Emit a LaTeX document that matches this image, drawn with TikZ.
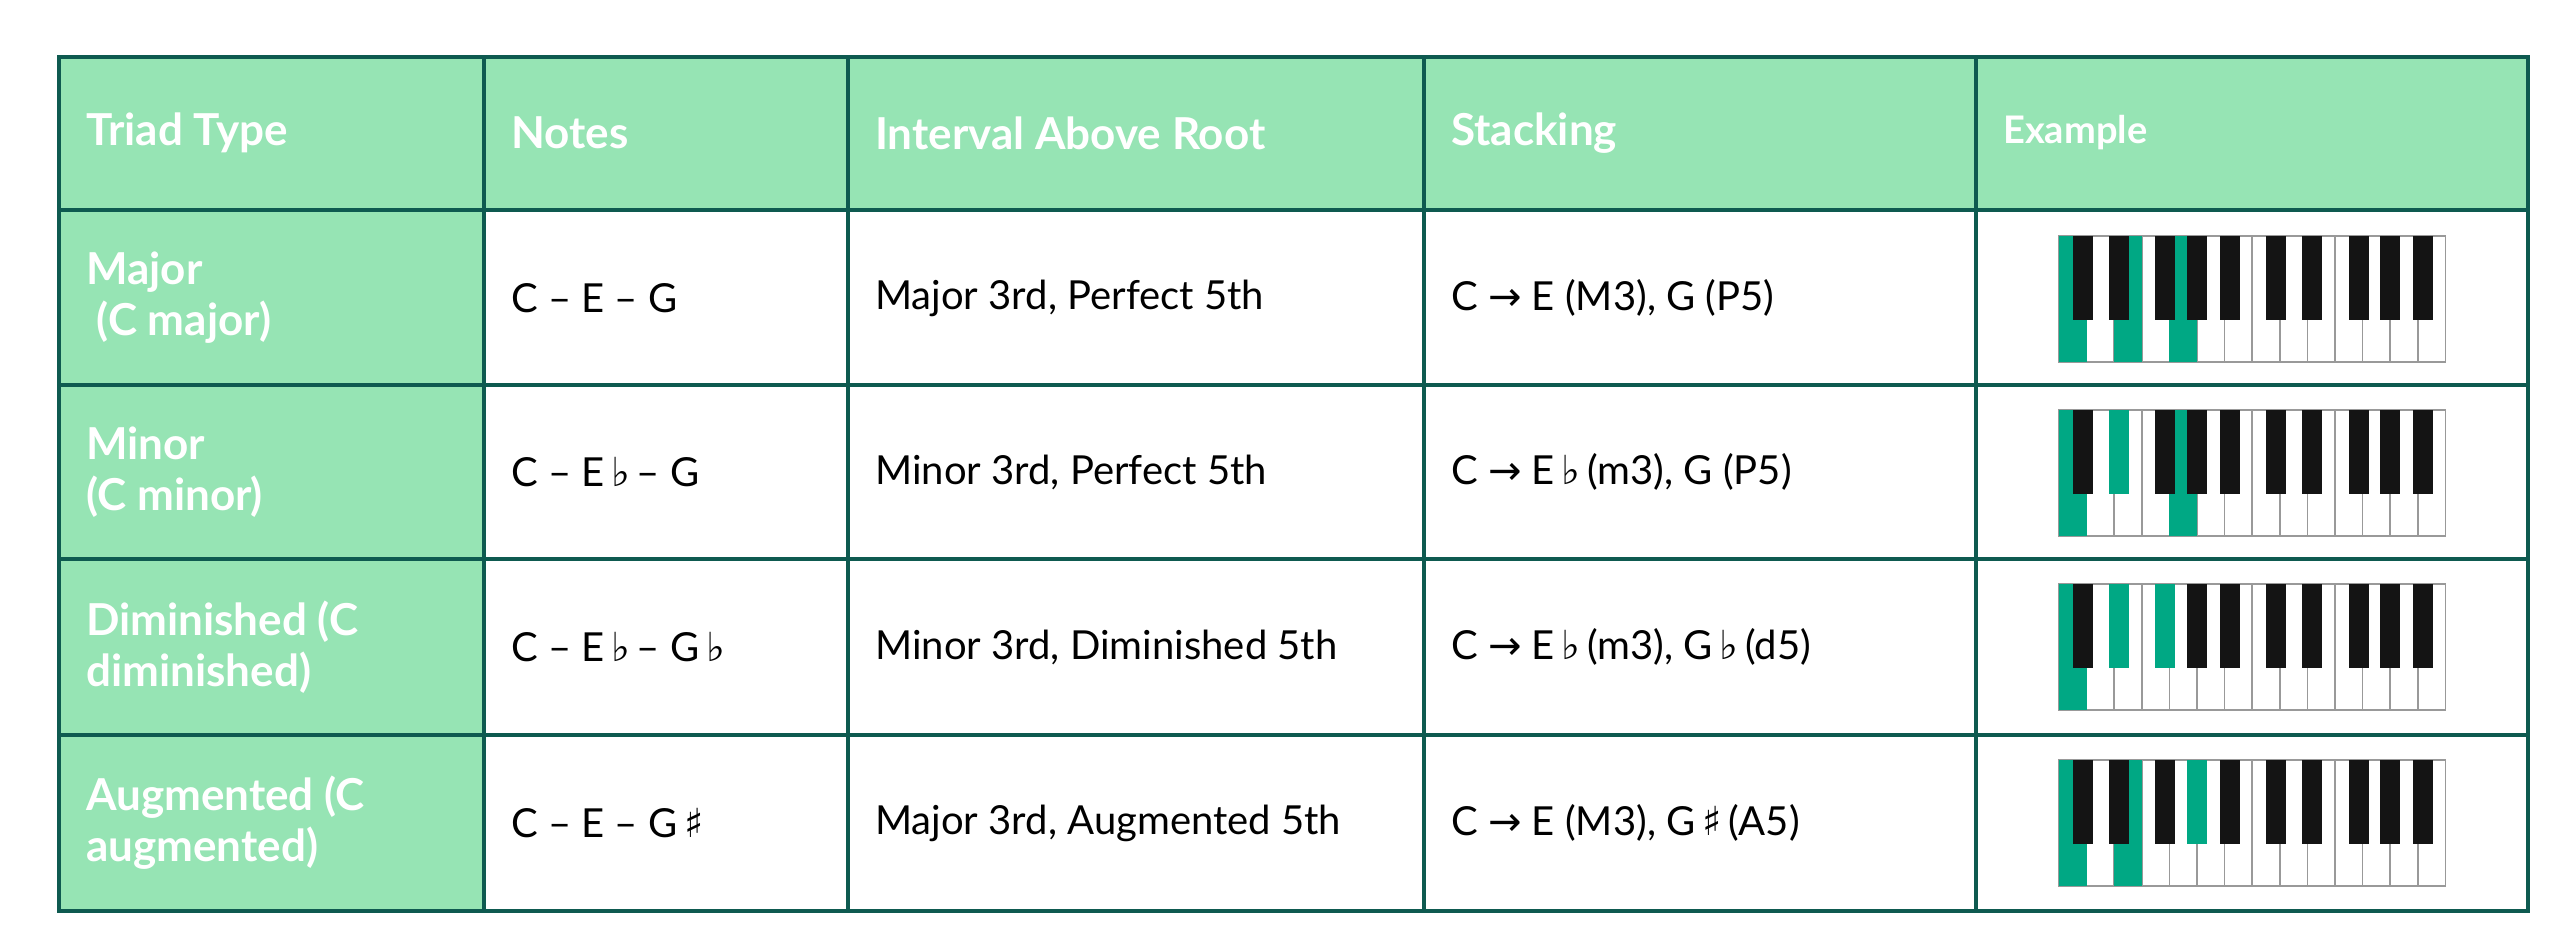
\documentclass[tikz,border=0pt]{standalone}
\usepackage{fontspec}
\setmainfont{Lato}
\newfontfamily\symfont{DejaVu Sans}
\usetikzlibrary{positioning}
\definecolor{headgreen}{HTML}{96E4B4}
\definecolor{rulegreen}{HTML}{0E5A50}
\definecolor{keygreen}{HTML}{00A884}
\definecolor{keyblack}{HTML}{141414}
\newcommand{\fl}{{\symfont\,♭\,}}
\newcommand{\shp}{{\symfont\,♯\,}}
\newcommand{\ra}{{\symfont→}}
\tikzstyle{headtext}=[anchor=west, text=white, font=\bfseries\fontsize{44}{51}\selectfont, align=left, inner sep=0pt]
\tikzstyle{celltext}=[anchor=west, text=black, font=\fontsize{40}{48}\selectfont, inner sep=0pt]
\tikzstyle{whitekey}=[draw=gray!80, line width=1.5pt, fill=white]
\tikzstyle{blackkey}=[fill=keyblack]
% keyboard: top y, green white keys, green black keys
\newcommand{\keyboard}[3]{%
  \foreach \k in {0,...,13}
    \draw[whitekey] (2059+\k*27.6,#1) rectangle ++(27.6,126);
  \foreach \k in {#2}
    \fill[keygreen] (2059+\k*27.6,#1) rectangle ++(27.6,126);
  \foreach \k/\o in {0/-4,1/5,3/-4,4/0,5/5,7/-4,8/5,10/-4,11/0,12/5}
    \fill[blackkey] (2059+\k*27.6+27.6+\o-10,#1) rectangle ++(20,84);
  \foreach \k/\o in {#3}
    \fill[keygreen] (2059+\k*27.6+27.6+\o-10,#1) rectangle ++(20,84);
}
\begin{document}
\begin{tikzpicture}[x=1pt,y=-1pt]
  \useasboundingbox (0,0) rectangle (2560,935);
  \fill[headgreen] (59,57) rectangle (2528,210);
  \fill[headgreen] (59,210) rectangle (484,911);
  % grid
  \foreach \y in {210,385,559,735}
    \draw[rulegreen, line width=4pt] (59,\y) -- (2528,\y);
  \foreach \x in {484,848,1424,1976}
    \draw[rulegreen, line width=4pt] (\x,57) -- (\x,911);
  \draw[rulegreen, line width=4pt] (59,57) rectangle (2528,911);
  % header
  \node[headtext] at (86,133) (htype) {Triad Type};
  \node[headtext] at (511,133) (hnotes) {Notes};
  \node[headtext] at (875,133) (hint) {Interval Above Root};
  \node[headtext] at (1451,133) (hstack) {Stacking};
  \node[headtext, font=\bfseries\fontsize{38}{46}\selectfont] at (2003,133) (hex) {Example};
  % rows
  \node[headtext] at (86,298) (tmajor) {Major\\\ (C major)};
  \node[headtext] at (86,472) (tminor) {Minor\\(C minor)};
  \node[headtext] at (86,647) (tdim) {Diminished (C\\diminished)};
  \node[headtext] at (86,823) (taug) {Augmented (C\\augmented)};
  \node[celltext] at (511,298) (nmajor) {C – E – G};
  \node[celltext] at (511,472) (nminor) {C – E\fl – G};
  \node[celltext] at (511,647) (ndim) {C – E\fl – G\fl};
  \node[celltext] at (511,823) (naug) {C – E – G\shp};
  \node[celltext] at (875,298) (imajor) {Major 3rd, Perfect 5th};
  \node[celltext] at (875,472) (iminor) {Minor 3rd, Perfect 5th};
  \node[celltext] at (875,647) (idim) {Minor 3rd, Diminished 5th};
  \node[celltext] at (875,823) (iaug) {Major 3rd, Augmented 5th};
  \node[celltext] at (1451,298) (smajor) {C \ra{} E (M3), G (P5)};
  \node[celltext] at (1451,472) (sminor) {C \ra{} E\fl (m3), G (P5)};
  \node[celltext] at (1451,647) (sdim) {C \ra{} E\fl (m3), G\fl (d5)};
  \node[celltext] at (1451,823) (saug) {C \ra{} E (M3), G\shp (A5)};
  % keyboards
  \keyboard{236}{0,2,4}{}
  \keyboard{410}{0,4}{1/5}
  \keyboard{584}{0}{1/5,3/-4}
  \keyboard{760}{0,2}{4/0}
\end{tikzpicture}
\end{document}
